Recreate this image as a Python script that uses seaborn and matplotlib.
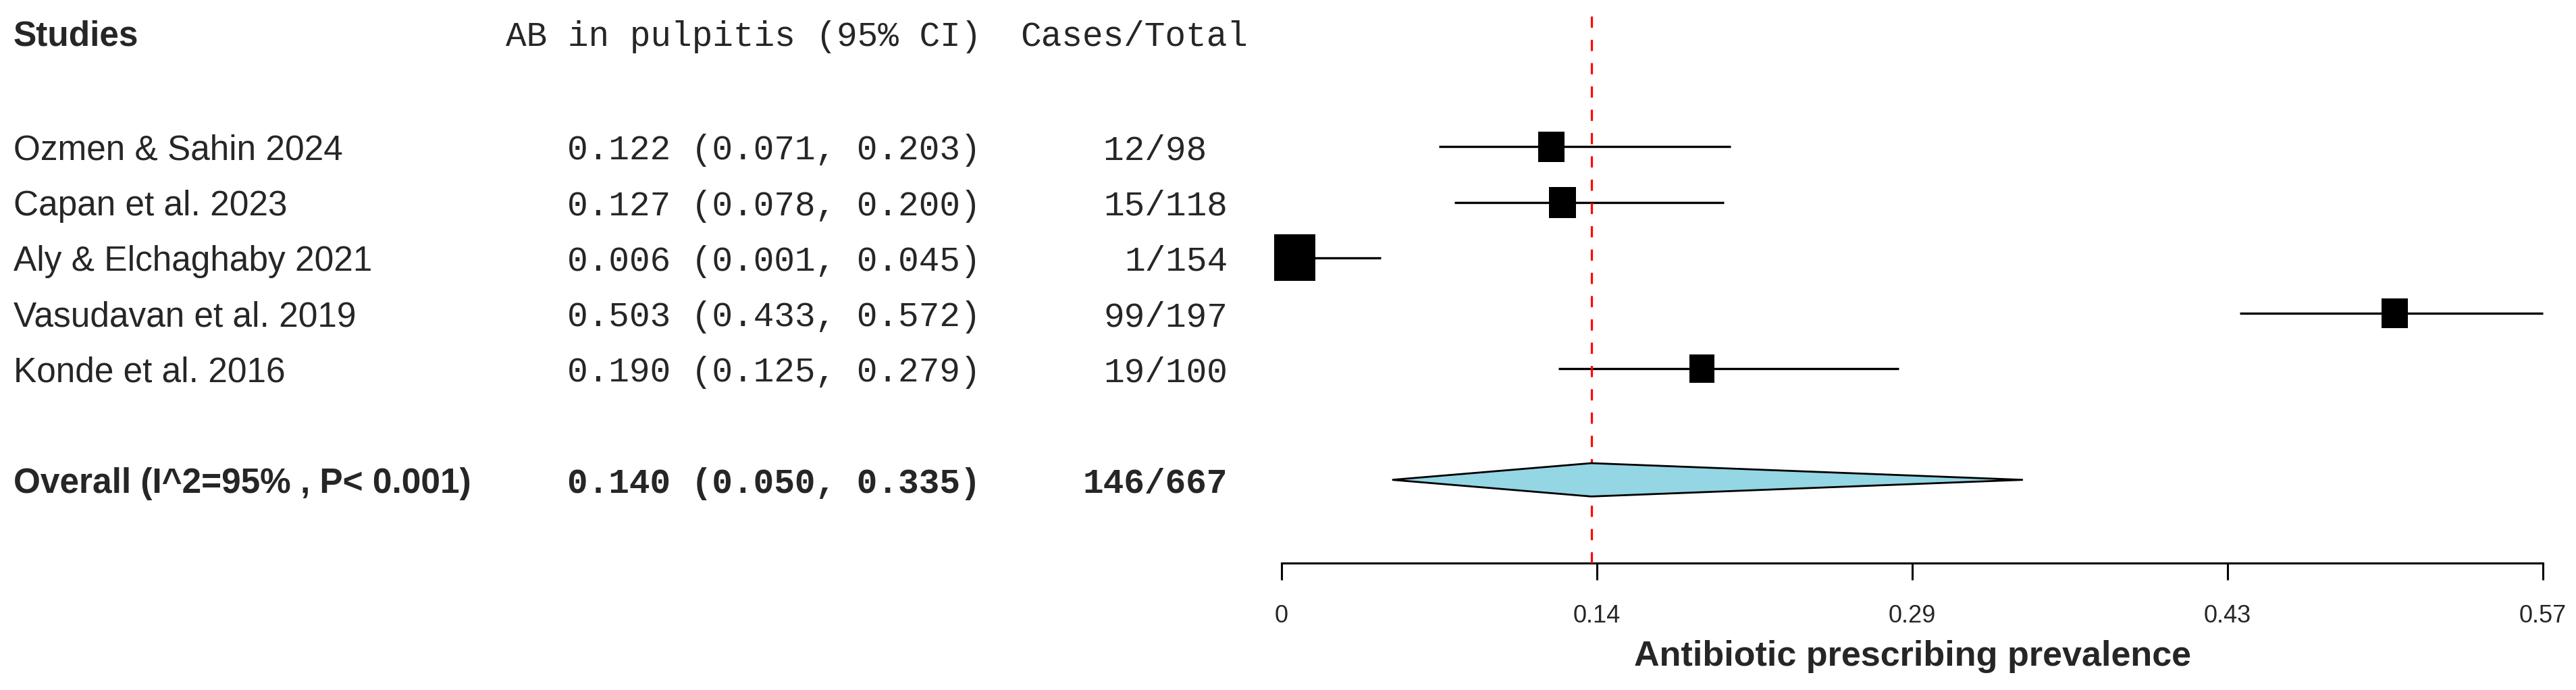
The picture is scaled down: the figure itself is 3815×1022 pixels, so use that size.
import numpy as np
import pandas as pd
import matplotlib
matplotlib.use('Agg')
import matplotlib.pyplot as plt
import matplotlib.transforms as mtransforms
from matplotlib import font_manager
from matplotlib.markers import MarkerStyle
import seaborn as sns

# study level data
studies = ['Ozmen & Sahin 2024', 'Capan et al. 2023', 'Aly & Elchaghaby 2021',
           'Vasudavan et al. 2019', 'Konde et al. 2016']
est = [0.122, 0.127, 0.006, 0.503, 0.190]
lower = [0.071, 0.078, 0.001, 0.433, 0.125]
upper = [0.203, 0.200, 0.045, 0.572, 0.279]
cases = [12, 15, 1, 99, 19]
totals = [98, 118, 154, 197, 100]

# pooled estimate
overall_label = 'Overall (I^2=95% , P< 0.001)'
overall_est = 0.140
overall_lower = 0.050
overall_upper = 0.335

# x axis
tick_values = [0, 0.1425, 0.285, 0.4275, 0.57]
tick_labels = ['0', '0.14', '0.29', '0.43', '0.57']

df = pd.DataFrame({'study': studies, 'est': est, 'lower': lower, 'upper': upper,
                   'cases': cases, 'total': totals})
df['row'] = np.arange(len(df)) + 2
overall_row = df['row'].max() + 2

# box size from precision (1 / CI width), like forestplot does
info = 1 / (df['upper'] - df['lower'])
info = info / info.max()
df['s'] = (49.7 * info ** 0.4) ** 2

sns.set_style('white')
plt.rcParams['font.family'] = ['Liberation Sans', 'DejaVu Sans']

# the reference text is a narrow arial; use the narrow face if it is there
installed = {f.name for f in font_manager.fontManager.ttflist}
if 'Liberation Sans Narrow' in installed:
    name_font = ['Liberation Sans Narrow', 'Liberation Sans']
    fs_name = 44
    fs_tick = 29
else:
    name_font = ['Liberation Sans', 'DejaVu Sans']
    fs_name = 37
    fs_tick = 26

fig = plt.figure(figsize=(38.15, 10.22), dpi=100)
ax = fig.add_axes([1898 / 3815, 1 - 834 / 1022, (3766 - 1898) / 3815, 834 / 1022])

# confidence intervals
ax.hlines(df['row'], df['lower'], df['upper'].clip(upper=0.57), color='black', lw=2.4,
          zorder=2, clip_on=False)

# reference line at pooled estimate
ax.vlines(overall_est, -0.35, 9.5, color='red', lw=2.3, linestyles=(0, (5.2, 5.6)),
          zorder=3, clip_on=False)

# pooled diamond
h = 0.30
ax.fill([overall_lower, overall_est, overall_upper, overall_est, overall_lower],
        [overall_row, overall_row - h, overall_row, overall_row + h, overall_row],
        facecolor='#94d6e3', edgecolor='black', lw=2.0, zorder=4, clip_on=False)

# study boxes
rect = MarkerStyle([(-0.44, -0.5), (0.44, -0.5), (0.44, 0.5), (-0.44, 0.5), (-0.44, -0.5)])
smin, smax = df['s'].min(), df['s'].max()
sns.scatterplot(data=df, x='est', y='row', size='s', sizes=(smin, smax),
                size_norm=(smin, smax), marker=rect, color='black', linewidth=0,
                legend=False, zorder=5, clip_on=False, ax=ax)

ax.set_xlim(0, 0.57)
ax.set_ylim(9.5, -53 / 82.1)
ax.set_yticks([])
ax.set_ylabel('')
for side in ['top', 'right', 'left']:
    ax.spines[side].set_visible(False)
ax.spines['bottom'].set_linewidth(2.2)
ax.spines['bottom'].set_color('black')
ax.spines['bottom'].set_bounds(0, 0.57)
ax.set_xticks(tick_values)
ax.set_xticklabels(tick_labels, family=name_font)
ax.tick_params(axis='x', direction='out', length=18, width=2.2, color='black',
               labelsize=fs_tick, pad=26, bottom=True)
ax.set_xlabel('Antibiotic prescribing prevalence', fontsize=37.5, fontweight='bold',
              labelpad=13)

# text columns
trans = mtransforms.blended_transform_factory(fig.transFigure, ax.transData)
x_name = 20 / 3815
x_ci = 1453 / 3815
x_cases = 1818 / 3815
mono = ['Liberation Mono', 'DejaVu Sans Mono']
fs = 36.8

ax.text(x_name, -0.05, 'Studies', transform=trans, ha='left', va='center_baseline',
        fontsize=fs_name, fontweight='bold', family=name_font)
ax.text(x_ci, -0.05, 'AB in pulpitis (95% CI)', transform=trans, ha='right',
        va='center_baseline', fontsize=fs, family=mono)
ax.text(1848 / 3815, -0.05, 'Cases/Total', transform=trans, ha='right',
        va='center_baseline', fontsize=fs, family=mono)

for _, r in df.iterrows():
    ax.text(x_name, r['row'], r['study'], transform=trans, ha='left',
            va='center_baseline', fontsize=fs_name, family=name_font)
    ax.text(x_ci, r['row'], f"{r['est']:.3f} ({r['lower']:.3f}, {r['upper']:.3f})",
            transform=trans, ha='right', va='center_baseline', fontsize=fs, family=mono)
    ax.text(x_cases, r['row'], f"{int(r['cases'])}/{int(r['total']):<3d}",
            transform=trans, ha='right', va='center_baseline', fontsize=fs, family=mono)

ax.text(x_name, overall_row, overall_label, transform=trans, ha='left',
        va='center_baseline', fontsize=fs_name, fontweight='bold', family=name_font)
ax.text(x_ci, overall_row, f"{overall_est:.3f} ({overall_lower:.3f}, {overall_upper:.3f})",
        transform=trans, ha='right', va='center_baseline', fontsize=fs, family=mono,
        fontweight='bold')
ax.text(x_cases, overall_row, f"{sum(cases)}/{sum(totals)}", transform=trans,
        ha='right', va='center_baseline', fontsize=fs, family=mono, fontweight='bold')

fig.savefig('out.png', dpi=100, facecolor='white')
